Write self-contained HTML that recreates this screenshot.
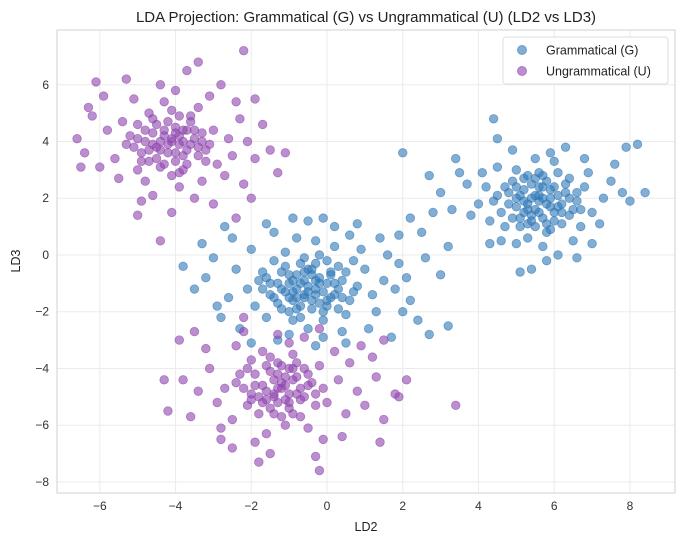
<!DOCTYPE html>
<html><head><meta charset="utf-8"><style>
body{margin:0;background:#fff;font-family:"Liberation Sans",sans-serif;}
svg text{font-family:"Liberation Sans",sans-serif;}
</style></head><body>
<svg id="chart" width="685" height="545" viewBox="0 0 685 545" xmlns="http://www.w3.org/2000/svg">
<g id="grid"></g>
<rect x="57" y="30" width="618" height="463" fill="none" stroke="#d0d0d0" stroke-width="1"/>
<g id="pts"></g>
<g id="ticks"></g>
<text x="366" y="22" font-size="15" text-anchor="middle" fill="#222">LDA Projection: Grammatical (G) vs Ungrammatical (U) (LD2 vs LD3)</text>
<text x="366" y="531" font-size="12.5" text-anchor="middle" fill="#222">LD2</text>
<text x="20" y="261" font-size="12.5" text-anchor="middle" fill="#222" transform="rotate(-90 20 261)">LD3</text>
<g>
<rect x="503" y="37" width="165" height="47" rx="3" fill="#fff" fill-opacity="0.85" stroke="#ddd"/>
<circle cx="522" cy="50" r="4.5" fill="#2f78b7" fill-opacity="0.6" stroke="#2f78b7" stroke-opacity="0.6"/>
<text x="546" y="54.5" font-size="12.5" fill="#222">Grammatical (G)</text>
<circle cx="522" cy="71" r="4.5" fill="#8e44ad" fill-opacity="0.6" stroke="#8e44ad" stroke-opacity="0.6"/>
<text x="546" y="75.5" font-size="12.5" fill="#222">Ungrammatical (U)</text>
</g>
</svg>
<script>
const xTicks=[-6,-4,-2,0,2,4,6,8];
const yTicks=[-8,-6,-4,-2,0,2,4,6];
const gram=[[-0.5,-1.1],[-0.2,-0.8],[-0.9,-1.3],[0.1,-1.5],[-1.2,-0.6],[-0.4,-1.9],[0.4,-0.9],[-0.7,-0.3],[-1.5,-1.4],[0.0,-0.2],[-0.3,-1.4],[-1.0,-2.0],[0.6,-1.6],[-0.6,-0.9],[-1.8,-0.9],[0.3,-0.4],[-0.1,-2.3],[-1.3,-1.7],[0.8,-1.1],[-0.8,-0.7],[-2.1,-1.2],[0.2,0.3],[-0.5,-2.6],[-1.1,0.1],[1.0,-0.5],[-1.6,-2.2],[0.5,-2.1],[-0.2,-1.0],[-0.9,-1.6],[-1.4,-0.2],[1.2,-1.4],[-2.4,-0.5],[0.1,-0.7],[-0.6,-1.5],[-0.3,0.5],[-1.9,-1.8],[0.7,-0.2],[-1.0,-1.0],[-0.4,-0.5],[0.3,-1.2],[-2.6,-1.5],[1.5,-0.9],[-0.7,-2.2],[-1.2,-1.2],[0.0,-1.8],[-0.8,0.6],[1.3,-2.0],[-2.0,0.2],[0.9,0.2],[-0.1,-2.9],[-1.7,-0.6],[0.4,-2.7],[-2.8,-2.2],[1.8,-1.2],[-1.4,0.8],[0.2,1.0],[-3.2,-0.8],[2.0,-2.0],[-0.5,1.2],[-2.3,-2.6],[1.6,0.0],[-3.0,-0.1],[0.6,0.7],[-1.0,-2.8],[2.2,-1.6],[-2.5,0.6],[1.1,-2.6],[-3.5,-1.2],[1.9,-0.3],[-0.3,-3.2],[-1.6,1.1],[2.4,-2.3],[-3.8,-0.4],[0.8,1.1],[-2.0,-3.1],[2.7,-2.8],[-0.9,1.3],[1.4,0.6],[-2.9,-1.8],[3.2,-2.5],[-1.3,-3.0],[0.5,-3.1],[-2.7,1.0],[1.7,-2.9],[-3.3,0.4],[2.1,-0.8],[-0.1,1.3],[-1.1,-0.4],[-0.6,-0.1],[0.2,-1.0],[-0.8,-1.9],[-1.5,-1.0],
[-0.3,-1.2],[-0.7,-1.0],[-0.1,-1.3],[-0.9,-0.9],[-0.4,-0.7],[-0.6,-1.4],[0.0,-1.0],[-1.1,-1.3],[-0.2,-1.7],[-0.8,-1.2],[-0.5,-0.5],[0.2,-1.4],[-1.3,-1.0],[-0.4,-1.6],[-0.7,-1.8],[0.1,-0.6],[-1.0,-0.7],[-0.3,-0.3],[0.4,-1.5],[-1.4,-1.5],[-0.6,-0.6],[-0.1,-2.0],[-0.9,-2.3],[0.5,-0.6],[-1.6,-0.8],[0.3,-1.9],[-1.2,-1.9],[-0.2,0.0],[0.7,-1.3],[-1.7,-1.2],[-0.5,-1.3],[-0.8,-1.5],[0.0,-1.6],[-1.0,-1.5],[-0.3,-0.9],
[5.6,1.9],[5.2,2.3],[6.0,1.5],[5.4,1.2],[6.3,2.2],[5.0,1.7],[5.8,2.6],[4.8,2.2],[6.5,1.6],[5.5,1.6],[5.9,2.0],[5.3,2.8],[6.2,1.1],[4.6,1.5],[6.8,2.4],[5.7,1.3],[5.1,1.0],[6.1,2.9],[4.9,2.6],[6.6,1.9],[5.4,2.0],[5.8,0.8],[4.4,1.9],[7.0,1.5],[5.0,3.0],[6.4,2.7],[5.6,2.4],[4.7,1.0],[6.9,2.9],[5.3,0.6],[6.0,3.3],[4.2,2.4],[7.3,2.0],[5.7,0.3],[4.5,3.1],[6.7,1.0],[5.2,1.5],[6.2,1.8],[5.9,3.6],[4.3,1.2],[7.5,2.6],[5.0,0.4],[6.5,0.5],[4.0,1.8],[7.2,1.1],[5.5,3.4],[6.8,3.4],[4.6,0.5],[7.8,2.2],[5.8,-0.2],[4.1,2.9],[6.3,3.8],[4.9,3.7],[7.6,3.2],[5.4,-0.5],[3.8,1.4],[8.0,1.9],[6.1,0.0],[3.7,2.5],[7.0,0.4],[4.5,4.1],[8.4,2.2],[5.1,-0.6],[3.5,2.9],[8.2,3.9],[4.3,0.4],[3.3,1.6],[4.4,4.8],[7.9,3.8],[6.6,-0.1],[3.0,2.2],[2.8,1.5],[2.5,0.8],[2.7,2.8],[2.2,1.3],[2.0,3.6],[1.9,0.7],[3.2,0.3],[3.0,-0.7],[2.6,-0.1],[3.4,3.4],[5.6,2.1],[5.3,1.8],[5.9,1.7],[6.0,2.4],[5.1,2.1],[5.7,2.8],[6.4,1.4],[5.5,1.0],[4.9,1.3],
[5.5,2.1],[5.8,1.8],[5.3,1.6],[6.1,2.1],[5.6,1.5],[5.4,2.5],[5.9,2.3],[5.2,1.9],[6.2,1.5],[5.7,2.0],[5.0,2.0],[6.0,1.2],[5.5,2.7],[6.4,2.0],[5.1,1.3],[5.8,1.1],[4.8,1.8],[6.6,2.2],[5.6,2.9],[5.3,1.1],[4.7,2.4],[6.3,2.5],[6.1,1.7],[5.4,1.4],[5.7,2.4],[5.0,2.4],[6.7,1.6],[4.5,2.1],[5.9,0.9],[5.2,2.7]];
const ungram=[[-4.2,3.9],[-4.6,4.3],[-3.8,3.5],[-4.0,4.5],[-4.9,3.6],[-3.5,4.1],[-4.4,3.1],[-3.9,4.9],[-5.2,4.2],[-3.2,3.7],[-4.7,5.0],[-4.1,2.8],[-3.6,4.7],[-5.0,3.0],[-3.0,4.4],[-4.5,3.8],[-3.7,3.2],[-5.4,4.7],[-4.3,5.4],[-2.9,3.2],[-5.6,3.4],[-3.4,5.2],[-4.8,2.6],[-2.6,4.1],[-5.8,4.4],[-3.9,2.4],[-4.0,5.8],[-2.5,3.5],[-6.0,3.1],[-3.3,2.6],[-5.1,5.5],[-2.3,4.8],[-4.6,2.1],[-6.2,4.9],[-3.1,5.6],[-5.5,2.7],[-2.7,2.8],[-4.4,6.0],[-2.1,4.0],[-6.4,3.6],[-3.5,2.0],[-5.9,5.6],[-2.4,5.4],[-4.9,1.9],[-1.9,3.4],[-6.1,6.1],[-3.0,1.8],[-5.3,6.2],[-1.7,4.6],[-6.6,4.1],[-4.1,1.5],[-2.2,2.5],[-6.5,3.1],[-3.7,6.5],[-1.5,3.7],[-2.8,6.0],[-4.4,0.5],[-1.9,5.5],[-2.4,1.3],[-6.3,5.2],[-3.4,6.8],[-2.2,7.2],[-1.1,3.6],[-5.0,1.4],[-1.3,2.9],[-4.3,4.2],[-3.9,3.9],[-4.5,4.6],[-3.6,3.9],[-4.8,4.0],[-4.0,3.3],[-3.8,4.4],[-5.1,3.8],[-4.2,3.6],[-3.4,3.5],[-4.7,3.3],[-4.1,4.1],[-3.3,4.0],[-2.0,2.0],
[-4.1,4.0],[-4.4,3.7],[-3.9,4.2],[-4.3,4.4],[-4.6,3.9],[-3.7,3.7],[-4.0,3.6],[-4.2,4.7],[-4.8,4.4],[-3.5,4.4],[-4.5,3.4],[-3.8,3.0],[-5.0,4.1],[-3.3,4.3],[-4.3,3.2],[-3.6,4.9],[-4.9,3.3],[-3.1,3.9],[-4.6,4.8],[-3.9,2.9],[-5.3,3.9],[-4.1,5.1],[-3.2,3.3],[-5.0,4.6],[-3.7,4.4],[-4.4,4.0],[-3.8,4.0],[-4.7,3.7],[-4.0,4.3],[-3.4,3.8],
[-1.2,-4.7],[-0.8,-4.3],[-1.6,-5.1],[-1.0,-5.4],[-1.5,-4.1],[-0.6,-5.0],[-1.9,-4.6],[-1.3,-3.8],[-0.4,-4.5],[-2.1,-5.3],[-1.1,-6.0],[-0.2,-3.9],[-2.3,-4.2],[-0.7,-5.7],[-1.7,-3.4],[0.0,-5.2],[-2.5,-5.8],[-1.4,-5.6],[-0.3,-4.9],[-2.0,-3.7],[-0.9,-3.5],[-2.7,-4.7],[0.3,-4.4],[-1.6,-6.3],[-0.5,-6.1],[-2.9,-5.2],[0.5,-5.6],[-1.0,-3.1],[-2.4,-3.2],[0.2,-3.4],[-3.1,-4.0],[-0.1,-6.5],[-1.9,-6.6],[0.8,-4.8],[-2.8,-6.1],[-1.3,-2.8],[0.6,-3.8],[-3.4,-4.8],[-0.6,-2.9],[-2.2,-2.7],[1.0,-5.3],[-1.5,-7.0],[-3.6,-5.7],[0.9,-3.2],[-3.2,-3.3],[-0.3,-7.1],[1.3,-4.3],[-2.5,-6.8],[-3.8,-4.4],[0.4,-6.4],[1.5,-5.8],[-4.2,-5.5],[-1.8,-7.3],[1.2,-3.6],[-3.9,-3.0],[-2.2,-2.2],[1.8,-4.9],[-4.3,-4.4],[1.4,-6.6],[-0.2,-2.6],[2.1,-4.4],[-3.5,-2.7],[1.9,-5.0],[3.4,-5.3],[-0.2,-7.6],[-2.8,-6.5],[1.5,-3.0],[-1.2,-4.5],[-1.0,-4.9],[-1.4,-4.4],[-0.9,-4.0],[-1.6,-4.8],[-1.1,-5.1],[-0.7,-4.7],[-1.8,-5.0],[-1.3,-5.2],[-0.5,-4.2],[-2.0,-4.9],
[-1.1,-4.6],[-1.4,-4.9],[-0.9,-4.4],[-1.3,-4.2],[-1.7,-4.6],[-0.7,-5.1],[-1.0,-5.2],[-1.5,-5.4],[-1.9,-4.2],[-0.5,-4.6],[-1.2,-3.9],[-2.0,-5.1],[-0.8,-3.8],[-1.6,-3.9],[-0.3,-5.3],[-1.2,-5.7],[-2.2,-4.7],[-0.6,-4.0],[-1.8,-5.6],[-0.9,-5.6],[-2.4,-4.5],[-0.1,-4.7],[-1.5,-3.6],[-1.1,-4.3],[-1.3,-4.7],[-0.8,-4.9],[-1.7,-5.2],[-1.0,-4.0],[-1.4,-5.0],[-2.1,-4.0]];
const NS='http://www.w3.org/2000/svg';
const X0=57,X1=675,Y0=30,Y1=493;
const xmin=-7.13,xmax=9.19,ymin=-8.39,ymax=7.93;
function sx(v){return X0+(v-xmin)/(xmax-xmin)*(X1-X0);}
function sy(v){return Y1-(v-ymin)/(ymax-ymin)*(Y1-Y0);}
const grid=document.getElementById('grid'),ticks=document.getElementById('ticks'),pts=document.getElementById('pts');
xTicks.forEach(t=>{
 const l=document.createElementNS(NS,'line');
 
 
 l.setAttribute('x1',sx(t));l.setAttribute('x2',sx(t));l.setAttribute('y1',Y0);l.setAttribute('y2',Y1);
 l.setAttribute('stroke','#ebebeb');grid.appendChild(l);
 const tx=document.createElementNS(NS,'text');
 
 
 tx.setAttribute('x',sx(t));tx.setAttribute('y',Y1+17);tx.setAttribute('font-size','12');
 tx.setAttribute('text-anchor','middle');tx.setAttribute('fill','#333');
 tx.textContent=t<0?'\u2212'+(-t):t;ticks.appendChild(tx);
});
yTicks.forEach(t=>{
 const l=document.createElementNS(NS,'line');
 
 
 l.setAttribute('x1',X0);l.setAttribute('x2',X1);l.setAttribute('y1',sy(t));l.setAttribute('y2',sy(t));
 l.setAttribute('stroke','#ebebeb');grid.appendChild(l);
 const tx=document.createElementNS(NS,'text');
 
 
 tx.setAttribute('x',X0-8);tx.setAttribute('y',sy(t)+4);tx.setAttribute('font-size','12');
 tx.setAttribute('text-anchor','end');tx.setAttribute('fill','#333');
 tx.textContent=t<0?'\u2212'+(-t):t;ticks.appendChild(tx);
});
function draw(data,color,name){
 data.forEach(p=>{
  const c=document.createElementNS(NS,'circle');
  
  
  c.setAttribute('cx',sx(p[0]));c.setAttribute('cy',sy(p[1]));c.setAttribute('r','4.3');
  c.setAttribute('fill',color);c.setAttribute('fill-opacity','0.6');
  c.setAttribute('stroke',color);c.setAttribute('stroke-opacity','0.6');c.setAttribute('stroke-width','0.8');
  pts.appendChild(c);
 });
}
draw(gram,'#2f78b7','point-grammatical');
draw(ungram,'#8e44ad','point-ungrammatical');
</script>
</body></html>
